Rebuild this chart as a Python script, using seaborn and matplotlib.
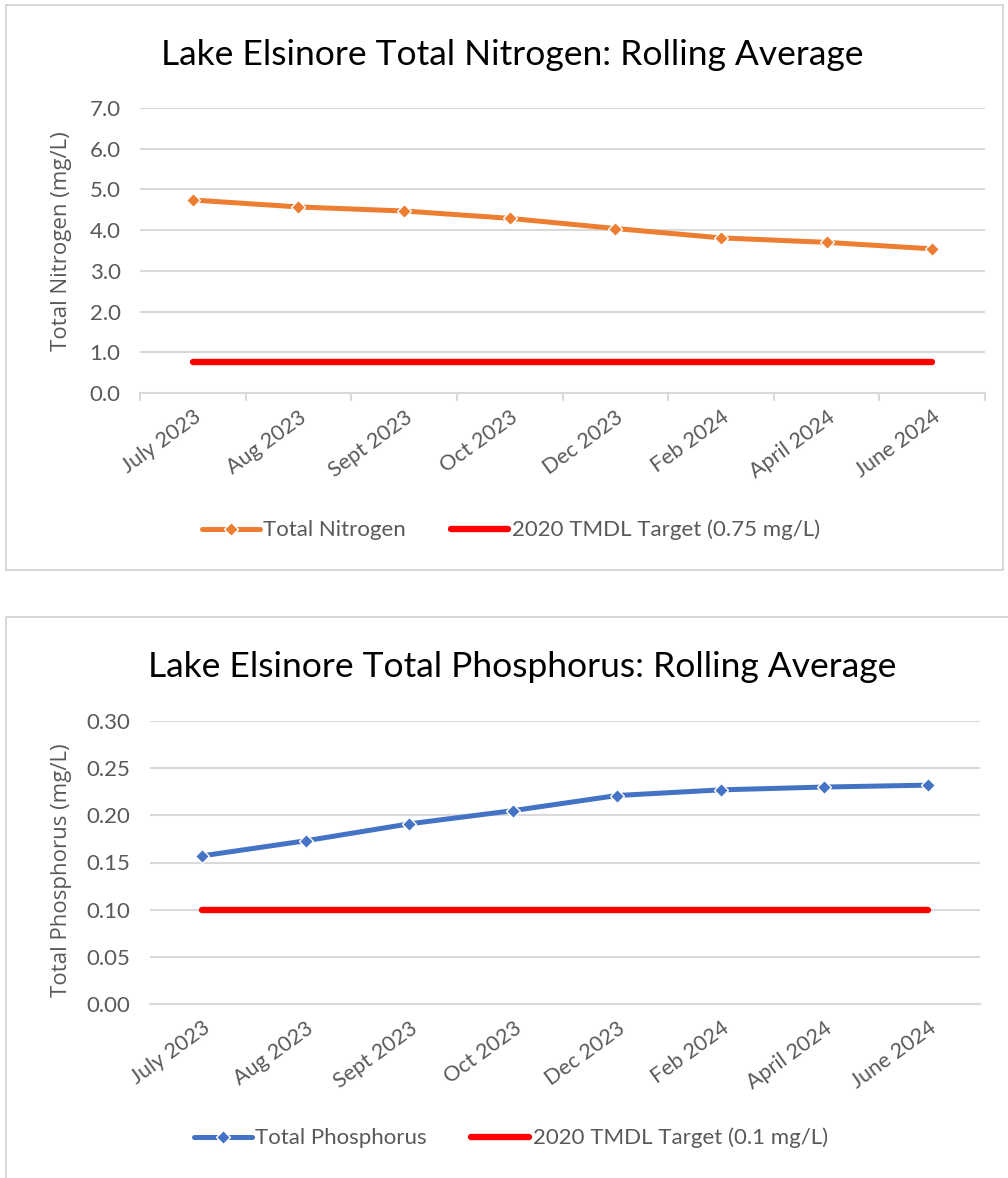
import matplotlib
matplotlib.use("Agg")
import matplotlib.pyplot as plt
import seaborn as sns
import pandas as pd
from matplotlib.patches import Rectangle

months = ["July 2023", "Aug 2023", "Sept 2023", "Oct 2023", "Dec 2023",
          "Feb 2024", "April 2024", "June 2024"]
nitrogen = [4.74, 4.57, 4.47, 4.29, 4.04, 3.81, 3.70, 3.54]
nitrogen_target = [0.75] * 8
phosphorus = [0.157, 0.173, 0.191, 0.205, 0.221, 0.227, 0.230, 0.232]
phosphorus_target = [0.10] * 8
n_ticks = [0.0, 1.0, 2.0, 3.0, 4.0, 5.0, 6.0, 7.0]
p_ticks = [0.00, 0.05, 0.10, 0.15, 0.20, 0.25, 0.30]

sns.set_theme(style="white")
plt.rcParams['font.family'] = ['Lato', 'DejaVu Sans']

W, H = 1008, 1178
fig = plt.figure(figsize=(W / 100, H / 100), dpi=100)

def fx(px):
    return px / W

def fy(py):
    return 1 - py / H

# panel borders
for (x0, y0, x1, y1) in [(6, 5, 1003, 570), (6, 617, 1012, 1182)]:
    fig.patches.append(Rectangle((fx(x0), fy(y1)), fx(x1 - x0), (y1 - y0) / H,
                                 transform=fig.transFigure, fill=False,
                                 edgecolor="#d0d0d0", linewidth=1.2))

grey = "#595959"
grid_c = "#d9d9d9"

def make_panel(rect, values, target, series_name, target_name, color, ticks,
               fmt, ylabel, title, title_xy, legend_xy, ylabel_xy, ticks_marks):
    ax = fig.add_axes(rect)
    df = pd.DataFrame({"month": months, "value": values, "target": target})
    df["pos"] = range(len(months))
    sns.lineplot(data=df, x="pos", y="target", ax=ax, color="#FF0000",
                 linewidth=4.6, label=target_name, solid_capstyle="round")
    sns.lineplot(data=df, x="pos", y="value", ax=ax, color=color, linewidth=3.6,
                 marker="D", markersize=7.5, markeredgecolor="white",
                 markeredgewidth=1.0, label=series_name)
    ax.set_xlim(-0.5, len(months) - 0.5)
    ax.set_ylim(ticks[0], ticks[-1])
    ax.set_yticks(ticks)
    ax.set_yticklabels([fmt.format(t) for t in ticks], color=grey, fontsize=16)
    ax.set_xticks(range(len(months)))
    ax.set_xticklabels(months, rotation=36, ha="right", rotation_mode="anchor",
                       color=grey, fontsize=15.5)
    ax.tick_params(axis="x", length=0, pad=10)
    ax.tick_params(axis="y", length=0, pad=14)
    ax.grid(axis="y", color=grid_c, linewidth=1.5)
    ax.set_axisbelow(True)
    for s in ["top", "right", "left"]:
        ax.spines[s].set_visible(False)
    ax.spines["bottom"].set_color(grid_c)
    ax.spines["bottom"].set_linewidth(1.5)
    if ticks_marks:
        for b in [i - 0.5 for i in range(len(months) + 1)]:
            ax.plot([b, b], [0, -0.025], transform=ax.get_xaxis_transform(),
                    color=grid_c, linewidth=1.5, clip_on=False)
    ax.set_xlabel("")
    ax.set_ylabel("")
    fig.text(fx(ylabel_xy[0]), fy(ylabel_xy[1]), ylabel, rotation=90,
             ha="center", va="center", color=grey, fontsize=16,
             family=["Open Sans", "DejaVu Sans"])
    fig.text(fx(title_xy[0]), fy(title_xy[1]), title, ha="center", va="center",
             fontsize=25.5, color="black")
    handles, labels = ax.get_legend_handles_labels()
    order = [labels.index(series_name), labels.index(target_name)]
    ax.legend([handles[i] for i in order], [labels[i] for i in order],
              loc="center", bbox_to_anchor=(fx(legend_xy[0]), fy(legend_xy[1])),
              bbox_transform=fig.transFigure, ncol=2, frameon=False,
              fontsize=16, labelcolor=grey, handlelength=2.6,
              handletextpad=0.15, columnspacing=2.0, numpoints=1)
    return ax

make_panel([fx(140), fy(393), fx(985 - 140), (393 - 108) / H], nitrogen,
           nitrogen_target, "Total Nitrogen", "2020 TMDL Target (0.75 mg/L)",
           "#ED7D31", n_ticks, "{:.1f}", "Total Nitrogen (mg/L)",
           "Lake Elsinore Total Nitrogen: Rolling Average", (512, 55),
           (511, 530), (61, 241), True)

make_panel([fx(150), fy(1004), fx(980 - 150), (1004 - 721) / H], phosphorus,
           phosphorus_target, "Total Phosphorus", "2020 TMDL Target (0.1 mg/L)",
           "#4472C4", p_ticks, "{:.2f}", "Total Phosphorus (mg/L)",
           "Lake Elsinore Total Phosphorus: Rolling Average", (522, 667),
           (511, 1138), (61, 870), False)

fig.savefig("out.png", dpi=100)
